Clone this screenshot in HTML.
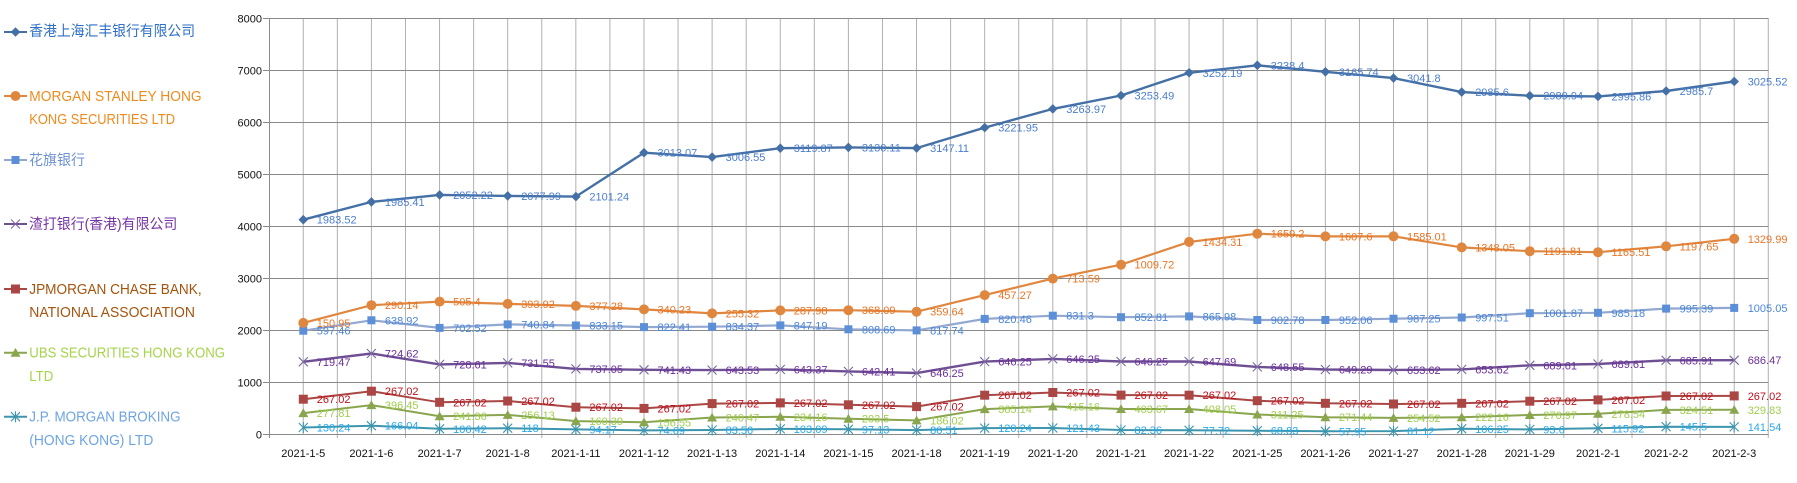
<!DOCTYPE html>
<html><head><meta charset="utf-8"><style>
html,body{margin:0;padding:0;background:#fff;}
svg{display:block;}
.ax{font-family:"Liberation Sans","Noto Sans CJK SC",sans-serif;font-size:11px;fill:#111;}
.lg{font-family:"Liberation Sans","Noto Sans CJK SC",sans-serif;font-size:14.5px;}
.dl{font-family:"Liberation Sans",sans-serif;font-size:11px;}
</style></head><body>
<svg width="1797" height="483" viewBox="0 0 1797 483" xmlns="http://www.w3.org/2000/svg">
<defs>
<polygon id="dia" points="0,-4.8 4.8,0 0,4.8 -4.8,0" fill="#4470a5"/>
<circle id="circ" r="5" fill="#e0873f"/>
<rect id="sq1" x="-4" y="-4" width="8" height="8" fill="#5b8fd8"/>
<path id="xm" d="M-4.5,-4.5L4.5,4.5M-4.5,4.5L4.5,-4.5" stroke="#7a67a0" stroke-width="1.1" fill="none"/>
<rect id="sq2" x="-4.5" y="-4.5" width="9" height="9" fill="#aa4643"/>
<polygon id="tri" points="0,-4.8 5,4 -5,4" fill="#89a54e"/>
<path id="ast" d="M-4.5,-4.5L4.5,4.5M-4.5,4.5L4.5,-4.5M0,-5.5V5.5" stroke="#3d96ae" stroke-width="1.1" fill="none"/>
</defs>

<!-- vertical grid -->
<path fill="none" stroke="#b0b0b0" stroke-width="1" d="M303.27,18V434M337.34,18V438M371.41,18V434M405.48,18V438M439.55,18V434M473.62,18V438M507.69,18V434M541.76,18V438M575.83,18V434M609.9,18V438M643.97,18V434M678.04,18V438M712.11,18V434M746.18,18V438M780.25,18V434M814.32,18V438M848.39,18V434M882.46,18V438M916.53,18V434M950.6,18V438M984.67,18V434M1018.74,18V438M1052.81,18V434M1086.88,18V438M1120.95,18V434M1155.02,18V438M1189.09,18V434M1223.16,18V438M1257.23,18V434M1291.3,18V438M1325.37,18V434M1359.44,18V438M1393.51,18V434M1427.58,18V438M1461.65,18V434M1495.72,18V438M1529.79,18V434M1563.86,18V438M1597.93,18V434M1632,18V438M1666.07,18V434M1700.14,18V438M1734.21,18V434M1768.28,18V438"/>
<!-- horizontal grid -->
<path fill="none" stroke="#8a8a8a" stroke-width="1" d="M263,18.5H1768.5M263,70.5H1768.5M263,122.5H1768.5M263,174.5H1768.5M263,226.5H1768.5M263,278.5H1768.5M263,330.5H1768.5M263,382.5H1768.5M263,434.5H1768.5"/>
<path fill="none" stroke="#8a8a8a" stroke-width="1" d="M269.5,18V438"/>

<!-- y labels -->
<g class="ax" text-anchor="end">
<text x="262" y="22.5">8000</text><text x="262" y="74.5">7000</text><text x="262" y="126.5">6000</text><text x="262" y="178.5">5000</text><text x="262" y="230.5">4000</text><text x="262" y="282.5">3000</text><text x="262" y="334.5">2000</text><text x="262" y="386.5">1000</text><text x="262" y="438.5">0</text>
</g>
<!-- x labels -->
<g class="ax" text-anchor="middle">
<text x="303.3" y="457">2021-1-5</text><text x="371.4" y="457">2021-1-6</text><text x="439.6" y="457">2021-1-7</text><text x="507.7" y="457">2021-1-8</text><text x="575.9" y="457">2021-1-11</text><text x="644" y="457">2021-1-12</text><text x="712.1" y="457">2021-1-13</text><text x="780.3" y="457">2021-1-14</text><text x="848.4" y="457">2021-1-15</text><text x="916.6" y="457">2021-1-18</text><text x="984.7" y="457">2021-1-19</text><text x="1052.8" y="457">2021-1-20</text><text x="1121" y="457">2021-1-21</text><text x="1189.1" y="457">2021-1-22</text><text x="1257.3" y="457">2021-1-25</text><text x="1325.4" y="457">2021-1-26</text><text x="1393.5" y="457">2021-1-27</text><text x="1461.7" y="457">2021-1-28</text><text x="1529.8" y="457">2021-1-29</text><text x="1598" y="457">2021-2-1</text><text x="1666.1" y="457">2021-2-2</text><text x="1734.2" y="457">2021-2-3</text>
</g>

<!-- JPB series -->
<polyline fill="none" stroke="#3d96ae" stroke-width="2" points="303.3,427.5 371.4,425.7 439.6,428.8 507.7,428.2 575.9,429.4 644,430.4 712.1,430 780.3,428.9 848.4,429.3 916.6,430.1 984.7,428.1 1052.8,428 1121,430 1189.1,430.3 1257.3,430.7 1325.4,431.3 1393.5,431.1 1461.7,428.8 1529.8,429.4 1598,428.3 1666.1,426.7 1734.2,426.9"/>
<!-- UBS -->
<polyline fill="none" stroke="#89a54e" stroke-width="2" points="303.3,413.1 371.4,405.1 439.6,416.2 507.7,414.9 575.9,421.1 644,422.3 712.1,417.5 780.3,416.8 848.4,418.7 916.6,420.4 984.7,409.1 1052.8,406.4 1121,409 1189.1,409 1257.3,414.5 1325.4,417.2 1393.5,417.9 1461.7,417.2 1529.8,415 1598,413.8 1666.1,409.9 1734.2,409.8"/>
<!-- JPM -->
<polyline fill="none" stroke="#aa4643" stroke-width="2" points="303.3,399.2 371.4,391.2 439.6,402.3 507.7,401 575.9,407.2 644,408.4 712.1,403.6 780.3,402.9 848.4,404.8 916.6,406.6 984.7,395.2 1052.8,392.5 1121,395.1 1189.1,395.2 1257.3,400.7 1325.4,403.3 1393.5,404 1461.7,403.3 1529.8,401.2 1598,399.9 1666.1,396 1734.2,395.9"/>
<!-- 渣打 -->
<polyline fill="none" stroke="#6e4f93" stroke-width="2.4" points="303.3,361.8 371.4,353.5 439.6,364.4 507.7,362.9 575.9,368.9 644,369.8 712.1,370.1 780.3,369.4 848.4,371.4 916.6,373 984.7,361.6 1052.8,358.9 1121,361.5 1189.1,361.5 1257.3,366.9 1325.4,369.5 1393.5,370 1461.7,369.4 1529.8,365.3 1598,364 1666.1,360.3 1734.2,360.2"/>
<!-- 花旗 -->
<polyline fill="none" stroke="#92a8d0" stroke-width="2.2" points="303.3,330.7 371.4,320.3 439.6,327.9 507.7,324.4 575.9,325.5 644,327.1 712.1,326.7 780.3,325.4 848.4,329.3 916.6,330.4 984.7,318.9 1052.8,315.7 1121,317.2 1189.1,316.4 1257.3,320 1325.4,320 1393.5,318.7 1461.7,317.5 1529.8,313.2 1598,312.8 1666.1,308.6 1734.2,307.9"/>
<!-- MS -->
<polyline fill="none" stroke="#e0873f" stroke-width="2.2" points="303.3,322.9 371.4,305.2 439.6,301.6 507.7,303.9 575.9,305.9 644,309.4 712.1,313.4 780.3,310.4 848.4,310.2 916.6,311.7 984.7,295.1 1052.8,278.6 1121,264.7 1189.1,241.9 1257.3,233.7 1325.4,236.4 1393.5,236.3 1461.7,247.4 1529.8,251.2 1598,252.2 1666.1,246.3 1734.2,238.8"/>
<!-- HSBC -->
<polyline fill="none" stroke="#4470a5" stroke-width="2.4" points="303.3,219.7 371.4,201.9 439.6,194.9 507.7,195.9 575.9,196.6 644,152.7 712.1,157.1 780.3,148.2 848.4,147.4 916.6,148.1 984.7,127.6 1052.8,108.9 1121,95.5 1189.1,72.8 1257.3,65.3 1325.4,71.8 1393.5,78.1 1461.7,92.1 1529.8,95.7 1598,96.4 1666.1,91 1734.2,81.5"/>

<!-- markers -->
<g>
<use href="#ast" x="303.3" y="427.5"/><use href="#ast" x="371.4" y="425.7"/><use href="#ast" x="439.6" y="428.8"/><use href="#ast" x="507.7" y="428.2"/><use href="#ast" x="575.9" y="429.4"/><use href="#ast" x="644" y="430.4"/><use href="#ast" x="712.1" y="430"/><use href="#ast" x="780.3" y="428.9"/><use href="#ast" x="848.4" y="429.3"/><use href="#ast" x="916.6" y="430.1"/><use href="#ast" x="984.7" y="428.1"/><use href="#ast" x="1052.8" y="428"/><use href="#ast" x="1121" y="430"/><use href="#ast" x="1189.1" y="430.3"/><use href="#ast" x="1257.3" y="430.7"/><use href="#ast" x="1325.4" y="431.3"/><use href="#ast" x="1393.5" y="431.1"/><use href="#ast" x="1461.7" y="428.8"/><use href="#ast" x="1529.8" y="429.4"/><use href="#ast" x="1598" y="428.3"/><use href="#ast" x="1666.1" y="426.7"/><use href="#ast" x="1734.2" y="426.9"/>
<use href="#tri" x="303.3" y="413.1"/><use href="#tri" x="371.4" y="405.1"/><use href="#tri" x="439.6" y="416.2"/><use href="#tri" x="507.7" y="414.9"/><use href="#tri" x="575.9" y="421.1"/><use href="#tri" x="644" y="422.3"/><use href="#tri" x="712.1" y="417.5"/><use href="#tri" x="780.3" y="416.8"/><use href="#tri" x="848.4" y="418.7"/><use href="#tri" x="916.6" y="420.4"/><use href="#tri" x="984.7" y="409.1"/><use href="#tri" x="1052.8" y="406.4"/><use href="#tri" x="1121" y="409"/><use href="#tri" x="1189.1" y="409"/><use href="#tri" x="1257.3" y="414.5"/><use href="#tri" x="1325.4" y="417.2"/><use href="#tri" x="1393.5" y="417.9"/><use href="#tri" x="1461.7" y="417.2"/><use href="#tri" x="1529.8" y="415"/><use href="#tri" x="1598" y="413.8"/><use href="#tri" x="1666.1" y="409.9"/><use href="#tri" x="1734.2" y="409.8"/>
<use href="#sq2" x="303.3" y="399.2"/><use href="#sq2" x="371.4" y="391.2"/><use href="#sq2" x="439.6" y="402.3"/><use href="#sq2" x="507.7" y="401"/><use href="#sq2" x="575.9" y="407.2"/><use href="#sq2" x="644" y="408.4"/><use href="#sq2" x="712.1" y="403.6"/><use href="#sq2" x="780.3" y="402.9"/><use href="#sq2" x="848.4" y="404.8"/><use href="#sq2" x="916.6" y="406.6"/><use href="#sq2" x="984.7" y="395.2"/><use href="#sq2" x="1052.8" y="392.5"/><use href="#sq2" x="1121" y="395.1"/><use href="#sq2" x="1189.1" y="395.2"/><use href="#sq2" x="1257.3" y="400.7"/><use href="#sq2" x="1325.4" y="403.3"/><use href="#sq2" x="1393.5" y="404"/><use href="#sq2" x="1461.7" y="403.3"/><use href="#sq2" x="1529.8" y="401.2"/><use href="#sq2" x="1598" y="399.9"/><use href="#sq2" x="1666.1" y="396"/><use href="#sq2" x="1734.2" y="395.9"/>
<use href="#xm" x="303.3" y="361.8"/><use href="#xm" x="371.4" y="353.5"/><use href="#xm" x="439.6" y="364.4"/><use href="#xm" x="507.7" y="362.9"/><use href="#xm" x="575.9" y="368.9"/><use href="#xm" x="644" y="369.8"/><use href="#xm" x="712.1" y="370.1"/><use href="#xm" x="780.3" y="369.4"/><use href="#xm" x="848.4" y="371.4"/><use href="#xm" x="916.6" y="373"/><use href="#xm" x="984.7" y="361.6"/><use href="#xm" x="1052.8" y="358.9"/><use href="#xm" x="1121" y="361.5"/><use href="#xm" x="1189.1" y="361.5"/><use href="#xm" x="1257.3" y="366.9"/><use href="#xm" x="1325.4" y="369.5"/><use href="#xm" x="1393.5" y="370"/><use href="#xm" x="1461.7" y="369.4"/><use href="#xm" x="1529.8" y="365.3"/><use href="#xm" x="1598" y="364"/><use href="#xm" x="1666.1" y="360.3"/><use href="#xm" x="1734.2" y="360.2"/>
<use href="#sq1" x="303.3" y="330.7"/><use href="#sq1" x="371.4" y="320.3"/><use href="#sq1" x="439.6" y="327.9"/><use href="#sq1" x="507.7" y="324.4"/><use href="#sq1" x="575.9" y="325.5"/><use href="#sq1" x="644" y="327.1"/><use href="#sq1" x="712.1" y="326.7"/><use href="#sq1" x="780.3" y="325.4"/><use href="#sq1" x="848.4" y="329.3"/><use href="#sq1" x="916.6" y="330.4"/><use href="#sq1" x="984.7" y="318.9"/><use href="#sq1" x="1052.8" y="315.7"/><use href="#sq1" x="1121" y="317.2"/><use href="#sq1" x="1189.1" y="316.4"/><use href="#sq1" x="1257.3" y="320"/><use href="#sq1" x="1325.4" y="320"/><use href="#sq1" x="1393.5" y="318.7"/><use href="#sq1" x="1461.7" y="317.5"/><use href="#sq1" x="1529.8" y="313.2"/><use href="#sq1" x="1598" y="312.8"/><use href="#sq1" x="1666.1" y="308.6"/><use href="#sq1" x="1734.2" y="307.9"/>
<use href="#circ" x="303.3" y="322.9"/><use href="#circ" x="371.4" y="305.2"/><use href="#circ" x="439.6" y="301.6"/><use href="#circ" x="507.7" y="303.9"/><use href="#circ" x="575.9" y="305.9"/><use href="#circ" x="644" y="309.4"/><use href="#circ" x="712.1" y="313.4"/><use href="#circ" x="780.3" y="310.4"/><use href="#circ" x="848.4" y="310.2"/><use href="#circ" x="916.6" y="311.7"/><use href="#circ" x="984.7" y="295.1"/><use href="#circ" x="1052.8" y="278.6"/><use href="#circ" x="1121" y="264.7"/><use href="#circ" x="1189.1" y="241.9"/><use href="#circ" x="1257.3" y="233.7"/><use href="#circ" x="1325.4" y="236.4"/><use href="#circ" x="1393.5" y="236.3"/><use href="#circ" x="1461.7" y="247.4"/><use href="#circ" x="1529.8" y="251.2"/><use href="#circ" x="1598" y="252.2"/><use href="#circ" x="1666.1" y="246.3"/><use href="#circ" x="1734.2" y="238.8"/>
<use href="#dia" x="303.3" y="219.7"/><use href="#dia" x="371.4" y="201.9"/><use href="#dia" x="439.6" y="194.9"/><use href="#dia" x="507.7" y="195.9"/><use href="#dia" x="575.9" y="196.6"/><use href="#dia" x="644" y="152.7"/><use href="#dia" x="712.1" y="157.1"/><use href="#dia" x="780.3" y="148.2"/><use href="#dia" x="848.4" y="147.4"/><use href="#dia" x="916.6" y="148.1"/><use href="#dia" x="984.7" y="127.6"/><use href="#dia" x="1052.8" y="108.9"/><use href="#dia" x="1121" y="95.5"/><use href="#dia" x="1189.1" y="72.8"/><use href="#dia" x="1257.3" y="65.3"/><use href="#dia" x="1325.4" y="71.8"/><use href="#dia" x="1393.5" y="78.1"/><use href="#dia" x="1461.7" y="92.1"/><use href="#dia" x="1529.8" y="95.7"/><use href="#dia" x="1598" y="96.4"/><use href="#dia" x="1666.1" y="91"/><use href="#dia" x="1734.2" y="81.5"/>
</g>

<!-- data labels -->
<g class="dl" transform="translate(13.5,4)">
<g fill="#27a9ee">
<text x="303.3" y="427.5">130.24</text><text x="371.4" y="425.7">166.04</text><text x="439.6" y="428.8">106.42</text><text x="507.7" y="428.2">118</text><text x="575.9" y="429.4">94.17</text><text x="644" y="430.4">74.69</text><text x="712.1" y="430">83.56</text><text x="780.3" y="428.9">103.09</text><text x="848.4" y="429.3">97.13</text><text x="916.6" y="430.1">80.51</text><text x="984.7" y="428.1">120.24</text><text x="1052.8" y="428">121.43</text><text x="1121" y="430">82.36</text><text x="1189.1" y="430.3">77.72</text><text x="1257.3" y="430.7">68.83</text><text x="1325.4" y="431.3">57.95</text><text x="1393.5" y="431.1">61.12</text><text x="1461.7" y="428.8">106.25</text><text x="1529.8" y="429.4">93.6</text><text x="1598" y="428.3">115.92</text><text x="1666.1" y="426.7">145.5</text><text x="1734.2" y="426.9">141.54</text>
</g>
<g fill="#9fcf4c">
<text x="303.3" y="413.1">277.81</text><text x="371.4" y="405.1">396.45</text><text x="439.6" y="416.2">241.36</text><text x="507.7" y="414.9">256.13</text><text x="575.9" y="421.1">160.39</text><text x="644" y="422.3">156.55</text><text x="712.1" y="417.5">240.47</text><text x="780.3" y="416.8">234.16</text><text x="848.4" y="418.7">203.5</text><text x="916.6" y="420.4">186.02</text><text x="984.7" y="409.1">365.14</text><text x="1052.8" y="406.4">415.16</text><text x="1121" y="409">403.67</text><text x="1189.1" y="409">408.05</text><text x="1257.3" y="414.5">311.25</text><text x="1325.4" y="417.2">271.44</text><text x="1393.5" y="417.9">254.52</text><text x="1461.7" y="417.2">222.16</text><text x="1529.8" y="415">276.97</text><text x="1598" y="413.8">278.54</text><text x="1666.1" y="409.9">324.51</text><text x="1734.2" y="409.8">329.83</text>
</g>
<g fill="#c0101c">
<text x="303.3" y="399.2">267.02</text><text x="371.4" y="391.2">267.02</text><text x="439.6" y="402.3">267.02</text><text x="507.7" y="401">267.02</text><text x="575.9" y="407.2">267.02</text><text x="644" y="408.4">267.02</text><text x="712.1" y="403.6">267.02</text><text x="780.3" y="402.9">267.02</text><text x="848.4" y="404.8">267.02</text><text x="916.6" y="406.6">267.02</text><text x="984.7" y="395.2">267.02</text><text x="1052.8" y="392.5">267.02</text><text x="1121" y="395.1">267.02</text><text x="1189.1" y="395.2">267.02</text><text x="1257.3" y="400.7">267.02</text><text x="1325.4" y="403.3">267.02</text><text x="1393.5" y="404">267.02</text><text x="1461.7" y="403.3">267.02</text><text x="1529.8" y="401.2">267.02</text><text x="1598" y="399.9">267.02</text><text x="1666.1" y="396">267.02</text><text x="1734.2" y="395.9">267.02</text>
</g>
<g fill="#6a2e9c">
<text x="303.3" y="361.8">719.47</text><text x="371.4" y="353.5">724.62</text><text x="439.6" y="364.4">728.61</text><text x="507.7" y="362.9">731.55</text><text x="575.9" y="368.9">737.05</text><text x="644" y="369.8">741.43</text><text x="712.1" y="370.1">643.53</text><text x="780.3" y="369.4">643.37</text><text x="848.4" y="371.4">642.41</text><text x="916.6" y="373">646.25</text><text x="984.7" y="361.6">646.25</text><text x="1052.8" y="358.9">646.25</text><text x="1121" y="361.5">646.25</text><text x="1189.1" y="361.5">647.69</text><text x="1257.3" y="366.9">648.55</text><text x="1325.4" y="369.5">649.29</text><text x="1393.5" y="370">653.62</text><text x="1461.7" y="369.4">653.62</text><text x="1529.8" y="365.3">689.61</text><text x="1598" y="364">689.61</text><text x="1666.1" y="360.3">685.91</text><text x="1734.2" y="360.2">686.47</text>
</g>
<g fill="#4a86dc">
<text x="303.3" y="330.7">597.46</text><text x="371.4" y="320.3">638.92</text><text x="439.6" y="327.9">702.52</text><text x="507.7" y="324.4">740.84</text><text x="575.9" y="325.5">833.15</text><text x="644" y="327.1">822.41</text><text x="712.1" y="326.7">834.37</text><text x="780.3" y="325.4">847.19</text><text x="848.4" y="329.3">808.69</text><text x="916.6" y="330.4">817.74</text><text x="984.7" y="318.9">820.46</text><text x="1052.8" y="315.7">831.3</text><text x="1121" y="317.2">852.81</text><text x="1189.1" y="316.4">865.98</text><text x="1257.3" y="320">902.78</text><text x="1325.4" y="320">952.06</text><text x="1393.5" y="318.7">987.25</text><text x="1461.7" y="317.5">997.51</text><text x="1529.8" y="313.2">1001.87</text><text x="1598" y="312.8">985.18</text><text x="1666.1" y="308.6">995.39</text><text x="1734.2" y="307.9">1005.05</text>
</g>
<g fill="#ea7424">
<text x="303.3" y="322.9">150.95</text><text x="371.4" y="305.2">290.14</text><text x="439.6" y="301.6">505.4</text><text x="507.7" y="303.9">393.92</text><text x="575.9" y="305.9">377.28</text><text x="644" y="309.4">340.23</text><text x="712.1" y="313.4">255.32</text><text x="780.3" y="310.4">287.98</text><text x="848.4" y="310.2">368.09</text><text x="916.6" y="311.7">359.64</text><text x="984.7" y="295.1">457.27</text><text x="1052.8" y="278.6">713.59</text><text x="1121" y="264.7">1009.72</text><text x="1189.1" y="241.9">1434.31</text><text x="1257.3" y="233.7">1659.2</text><text x="1325.4" y="236.4">1607.6</text><text x="1393.5" y="236.3">1585.01</text><text x="1461.7" y="247.4">1348.05</text><text x="1529.8" y="251.2">1191.81</text><text x="1598" y="252.2">1165.51</text><text x="1666.1" y="246.3">1197.65</text><text x="1734.2" y="238.8">1329.99</text>
</g>
<g fill="#4a7ed0">
<text x="303.3" y="219.7">1983.52</text><text x="371.4" y="201.9">1985.41</text><text x="439.6" y="194.9">2052.22</text><text x="507.7" y="195.9">2077.99</text><text x="575.9" y="196.6">2101.24</text><text x="644" y="152.7">3013.07</text><text x="712.1" y="157.1">3006.55</text><text x="780.3" y="148.2">3119.87</text><text x="848.4" y="147.4">3130.11</text><text x="916.6" y="148.1">3147.11</text><text x="984.7" y="127.6">3221.95</text><text x="1052.8" y="108.9">3263.97</text><text x="1121" y="95.5">3253.49</text><text x="1189.1" y="72.8">3252.19</text><text x="1257.3" y="65.3">3238.4</text><text x="1325.4" y="71.8">3165.74</text><text x="1393.5" y="78.1">3041.8</text><text x="1461.7" y="92.1">2985.6</text><text x="1529.8" y="95.7">2989.94</text><text x="1598" y="96.4">2995.86</text><text x="1666.1" y="91">2985.7</text><text x="1734.2" y="81.5">3025.52</text>
</g>
</g>

<!-- legend -->
<g>
<path d="M4,32H27" stroke="#4470a5" stroke-width="2"/><use href="#dia" x="15.5" y="32"/>
<path d="M4,96H27" stroke="#e0873f" stroke-width="2"/><use href="#circ" x="15.5" y="96"/>
<path d="M4,160H27" stroke="#92a8d0" stroke-width="2"/><use href="#sq1" x="15.5" y="160"/>
<path d="M4,224H27" stroke="#6e4f93" stroke-width="2"/><use href="#xm" x="15.5" y="224"/>
<path d="M4,289H27" stroke="#aa4643" stroke-width="2"/><use href="#sq2" x="15.5" y="289"/>
<path d="M4,352.7H27" stroke="#89a54e" stroke-width="2"/><use href="#tri" x="15.5" y="352.7"/>
<path d="M4,416.7H27" stroke="#3d96ae" stroke-width="2"/><use href="#ast" x="15.5" y="416.7"/>
</g>
<g class="lg">
<text x="29.3" y="36" fill="#2d6fc6" textLength="165.7" lengthAdjust="spacingAndGlyphs">香港上海汇丰银行有限公司</text>
<text x="29.3" y="100.8" fill="#f08a1e" textLength="172.3" lengthAdjust="spacingAndGlyphs">MORGAN STANLEY HONG</text>
<text x="29.3" y="124.1" fill="#f08a1e" textLength="145.7" lengthAdjust="spacingAndGlyphs">KONG SECURITIES LTD</text>
<text x="29" y="165" fill="#6d92d3" textLength="56" lengthAdjust="spacingAndGlyphs">花旗银行</text>
<text x="29" y="229" fill="#7435a4" textLength="148.3" lengthAdjust="spacingAndGlyphs">渣打银行(香港)有限公司</text>
<text x="29.3" y="293.8" fill="#a4540e" textLength="172.3" lengthAdjust="spacingAndGlyphs">JPMORGAN CHASE BANK,</text>
<text x="29.3" y="316.8" fill="#a4540e" textLength="165.7" lengthAdjust="spacingAndGlyphs">NATIONAL ASSOCIATION</text>
<text x="29.3" y="357.5" fill="#a6d44a" textLength="195.7" lengthAdjust="spacingAndGlyphs">UBS SECURITIES HONG KONG</text>
<text x="29.3" y="380.8" fill="#a6d44a" textLength="24" lengthAdjust="spacingAndGlyphs">LTD</text>
<text x="29.3" y="421.5" fill="#6ea4e4" textLength="151.3" lengthAdjust="spacingAndGlyphs">J.P. MORGAN BROKING</text>
<text x="29.3" y="444.8" fill="#6ea4e4" textLength="124" lengthAdjust="spacingAndGlyphs">(HONG KONG) LTD</text>
</g>
</svg>
</body></html>
